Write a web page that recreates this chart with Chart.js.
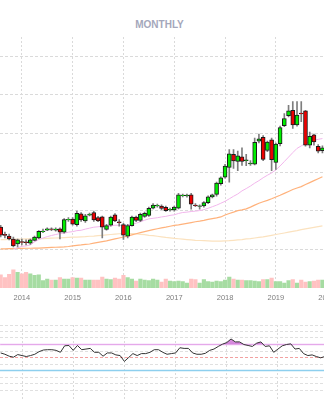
<!DOCTYPE html>
<html>
<head>
<meta charset="utf-8">
<title>Monthly</title>
<script src="https://cdn.jsdelivr.net/npm/chart.js@4.4.1/dist/chart.umd.min.js"></script>
<style>
  html, body { margin: 0; padding: 0; background: #fff; overflow: hidden; }
  body { width: 324px; height: 400px; position: relative; }
  .chart-title {
    position: absolute; top: 19px; left: 0; width: 319px;
    text-align: center; font: bold 10px Arial, "Liberation Sans", sans-serif;
    line-height: 12px; color: #a4a7bb;
  }
  #price-wrap { position: absolute; left: 0; top: 0; width: 340px; height: 307px; }
  #rsi-wrap { position: absolute; left: 0; top: 320px; width: 340px; height: 83px; }
</style>
</head>
<body>
<div class="chart-title">MONTHLY</div>
<div id="price-wrap"><canvas id="price-chart"></canvas></div>
<div id="rsi-wrap"><canvas id="rsi-chart"></canvas></div>
<script>
// month categories, Aug 2013 .. Dec 2019
const firstYear = 2013, firstMonth = 8, monthCount = 77;
const months = Array.from({ length: monthCount }, (_, i) => {
    const m = firstMonth - 1 + i;
    return `${firstYear + Math.floor(m / 12)}-${String(m % 12 + 1).padStart(2, '0')}`;
});
const yearTicks = ['2014', '2015', '2016', '2017', '2018', '2019', '2020'];

const opens = [31.6, 27.8, 26.9, 25.4, 22.8, 24.0, 23.9, 23.2, 24.7, 26.0,
    29.2, 30.0, 30.6, 30.0, 30.6, 28.9, 35.2, 35.7, 32.8, 38.4,
    34.8, 37.7, 39.1, 36.5, 36.8, 30.3, 32.5, 37.9, 34.3, 32.8,
    26.9, 32.3, 36.7, 35.0, 37.1, 37.6, 41.3, 42.5, 42.4, 41.8,
    40.4, 40.5, 41.3, 47.8, 47.7, 48.2, 43.0, 42.3, 42.5, 44.2,
    47.2, 48.5, 54.0, 57.4, 62.4, 69.2, 65.5, 68.0, 65.9, 64.3,
    64.1, 76.0, 78.0, 71.2, 76.8, 65.0, 74.8, 84.1, 89.2, 92.0,
    84.4, 90.6, 91.7, 74.0, 79.3, 73.4, 71.1];
const highs = [32.5, 28.9, 27.9, 26.4, 25.4, 25.4, 24.9, 25.4, 26.9, 29.7,
    30.5, 31.2, 31.2, 31.1, 31.2, 36.0, 36.5, 36.5, 39.8, 39.1,
    38.1, 38.8, 39.8, 37.1, 37.3, 33.0, 37.3, 38.6, 35.4, 33.5,
    33.0, 37.3, 37.3, 38.8, 39.3, 41.9, 43.7, 43.4, 43.1, 42.4,
    41.4, 42.4, 49.0, 48.7, 48.7, 49.0, 43.7, 43.1, 44.7, 47.7,
    48.7, 54.8, 57.6, 64.0, 71.7, 71.7, 70.9, 72.6, 69.2, 66.0,
    77.7, 79.7, 79.0, 76.1, 77.7, 75.1, 83.8, 90.4, 94.6, 96.6,
    96.6, 96.6, 92.0, 80.7, 79.7, 74.3, 73.6];
const lows = [26.4, 25.9, 24.9, 21.3, 21.3, 22.3, 22.3, 22.6, 24.4, 25.6,
    28.7, 29.7, 29.7, 29.4, 25.4, 28.4, 34.5, 32.5, 32.0, 34.5,
    34.0, 37.3, 34.5, 34.3, 26.0, 29.9, 32.0, 34.3, 32.0, 25.2,
    25.9, 32.0, 34.3, 34.3, 36.5, 37.1, 40.9, 41.9, 40.6, 39.6,
    39.8, 39.8, 40.9, 47.2, 47.0, 40.8, 42.1, 40.8, 41.9, 43.7,
    46.7, 47.5, 53.3, 56.9, 54.8, 61.9, 60.8, 63.5, 63.3, 63.5,
    63.7, 75.1, 66.0, 70.6, 60.8, 61.4, 73.6, 83.6, 88.6, 82.7,
    83.8, 86.1, 73.4, 72.6, 74.0, 70.0, 70.0];
const closes = [27.4, 27.2, 25.4, 21.8, 24.9, 23.6, 23.5, 24.9, 26.4, 29.3,
    29.5, 30.7, 30.3, 30.5, 28.9, 35.4, 35.6, 33.0, 38.7, 35.3,
    37.4, 38.3, 35.3, 34.8, 31.5, 32.3, 36.7, 34.8, 33.8, 27.3,
    32.3, 36.7, 35.0, 38.1, 38.7, 41.3, 43.0, 42.8, 41.2, 40.1,
    40.8, 41.9, 48.2, 48.1, 48.1, 43.4, 42.7, 42.6, 44.2, 47.2,
    48.2, 54.3, 57.1, 63.1, 69.5, 65.8, 68.4, 65.5, 66.4, 64.7,
    75.5, 77.2, 66.6, 75.6, 66.5, 74.6, 83.1, 87.8, 91.7, 84.4,
    89.5, 90.1, 74.0, 78.5, 75.6, 70.9, 72.6];
const volumes = [26, 21, 27, 36, 31, 28, 31, 28, 25, 26,
    15, 18, 16, 16, 21, 18, 18, 21, 20, 20,
    16, 16, 16, 16, 22, 18, 17, 20, 18, 25,
    21, 18, 14, 18, 16, 15, 18, 16, 12, 18,
    14, 13, 14, 13, 10, 18, 17, 10, 17, 13,
    12, 14, 13, 16, 22, 18, 16, 16, 15, 15,
    14, 13, 17, 17, 20, 13, 13, 10, 15, 17,
    10, 16, 12, 13, 14, 16, 16];

// moving averages
const maShort = [null, null, null, 20.1, 20.8, 21.6, 21.8, 22.3, 23.9, 25.1,
    25.9, 26.6, 27.2, 27.7, 28.2, 28.4, 28.9, 29.2, 29.7, 29.9,
    30.5, 31.0, 31.5, 31.7, 32.0, 32.0, 32.2, 32.5, 32.5, 32.2,
    32.5, 33.0, 33.6, 34.3, 35.1, 35.8, 36.1, 36.4, 36.8, 37.1,
    37.6, 37.9, 38.6, 39.1, 39.3, 39.6, 39.8, 40.1, 40.6, 41.3,
    42.1, 42.9, 43.9, 44.9, 46.2, 47.5, 48.7, 50.3, 51.5, 52.8,
    54.3, 55.6, 57.1, 58.4, 59.6, 61.2, 63.2, 65.5, 67.8, 70.1,
    72.3, 73.6, 74.9, 75.9, 76.5, 77.0, 77.4];
const maMid = [20.3, 20.3, 20.4, 20.4, 20.5, 20.5, 20.6, 20.6, 20.7, 20.7,
    20.8, 20.9, 21.0, 21.1, 21.2, 21.3, 21.5, 21.8, 22.1, 22.3,
    22.6, 22.8, 23.2, 23.6, 24.0, 24.4, 24.9, 25.4, 25.9, 26.4,
    26.9, 27.5, 28.1, 28.7, 29.2, 29.7, 30.2, 30.7, 31.1, 31.5,
    32.0, 32.4, 32.7, 33.1, 33.5, 33.9, 34.3, 34.6, 35.0, 35.5,
    35.9, 36.3, 36.8, 37.8, 38.6, 39.3, 40.1, 40.5, 41.0, 41.9,
    42.9, 43.9, 44.7, 45.4, 46.2, 47.1, 48.0, 49.0, 50.0, 51.0,
    51.8, 52.5, 53.6, 54.6, 55.6, 56.6, 57.6];
const maLong = [25.1, 25.1, 25.2, 25.2, 25.3, 25.3, 25.4, 25.4, 25.5, 25.5,
    25.6, 25.7, 25.8, 25.9, 26.0, 26.1, 26.2, 26.3, 26.4, 26.5,
    26.6, 26.8, 26.9, 27.1, 27.3, 27.5, 27.7, 27.9, 28.1, 28.2,
    28.2, 28.2, 28.0, 27.8, 27.6, 27.3, 27.1, 26.8, 26.5, 26.2,
    26.0, 25.7, 25.5, 25.3, 25.1, 24.9, 24.7, 24.6, 24.5, 24.4,
    24.3, 24.3, 24.3, 24.4, 24.5, 24.7, 24.9, 25.1, 25.4, 25.6,
    25.9, 26.2, 26.5, 26.9, 27.3, 27.7, 28.1, 28.5, 28.9, 29.3,
    29.7, 30.2, 30.6, 31.0, 31.4, 31.8, 32.2];

const rsi = [57, 55, 52, 50.5, 54.5, 53, 51.5, 53, 55, 59,
    61.5, 62, 62, 61, 58, 68, 68.5, 61, 68.5, 62,
    63, 64, 58, 58, 52, 57, 57, 54, 53, 44,
    50, 56, 53, 56, 56, 58, 62, 62, 58, 55,
    56, 57, 65, 64, 64, 57, 55, 55, 56.5, 61,
    63, 67, 70.5, 73, 78.5, 74, 74, 70, 68.5, 67,
    72, 74, 67, 68, 58, 63, 68, 70, 71, 63,
    64, 56, 53, 54, 51.5, 49.5, 51.5];
const rsiLevels = [70, 50, 30];

Chart.defaults.font.family = 'Arial, "Liberation Sans", Helvetica, sans-serif';

// visible month window (chart is wider than the page, right side clipped)
const viewStart = -0.157, viewEnd = 79.54;

const isUp = months.map((_, i) => closes[i] >= opens[i]);
const points = arr => arr.map((v, i) => ({ x: i, y: v }));
const yearPos = y => (Number(y) - firstYear) * 12 - (firstMonth - 1);

function timeAxis(showLabels) {
    return {
        type: 'linear',
        min: viewStart,
        max: viewEnd,
        offset: false,
        afterBuildTicks: axis => { axis.ticks = yearTicks.map(y => ({ value: yearPos(y) })); },
        ticks: {
            display: showLabels,
            autoSkip: false,
            maxRotation: 0,
            padding: 5,
            color: '#7d7d7d',
            font: { size: 7.5 },
            callback: (v, i) => yearTicks[i]
        },
        grid: { color: '#dadada', drawTicks: false, offset: false },
        border: { display: false, dash: [2, 2] }
    };
}

// --- PRICE + VOLUME ---
new Chart(document.getElementById('price-chart'), {
    type: 'bar',
    data: {
        datasets: [
            {
                label: 'body',
                data: months.map((_, i) => ({ x: i, y: [opens[i], closes[i]] })),
                backgroundColor: isUp.map(u => u ? '#00ee00' : '#ee0000'),
                borderColor: '#1c1c1c',
                borderWidth: 1,
                borderSkipped: false,
                barThickness: 4,
                grouped: false,
                order: 0
            },
            {
                label: 'wick',
                data: months.map((_, i) => ({ x: i, y: [lows[i], highs[i]] })),
                backgroundColor: '#7e7e7e',
                barThickness: 1,
                grouped: false,
                order: 1
            },
            {
                type: 'line', label: 'ma short', data: points(maShort),
                borderColor: '#f2b6ec', borderWidth: 1, pointRadius: 0, order: 2
            },
            {
                type: 'line', label: 'ma mid', data: points(maMid),
                borderColor: '#ffb27c', borderWidth: 1.2, pointRadius: 0, order: 3
            },
            {
                type: 'line', label: 'ma long', data: points(maLong),
                borderColor: '#fbe2bf', borderWidth: 1.2, pointRadius: 0, order: 4
            },
            {
                label: 'volume',
                data: points(volumes),
                yAxisID: 'vol',
                backgroundColor: isUp.map(u => u ? '#a6dca2' : '#ffc2c2'),
                barThickness: 3.5,
                grouped: false,
                order: 5
            }
        ]
    },
    options: {
        responsive: true,
        maintainAspectRatio: false,
        animation: false,
        layout: { padding: { top: 37 } },
        plugins: { legend: { display: false }, tooltip: { enabled: false } },
        scales: {
            x: timeAxis(true),
            y: {
                position: 'right',
                min: 0,
                max: 130,
                afterBuildTicks: axis => { axis.ticks = axis.ticks.filter(t => t.value > 0 && t.value < 130); },
                ticks: { stepSize: 20, display: false },
                grid: { color: '#dadada', drawTicks: false },
                border: { display: false, dash: [3, 2] }
            },
            vol: { display: false, min: 0, max: 500 }
        }
    }
});

// --- RSI ---
const rsiLevelLines = {
    id: 'rsiLevelLines',
    beforeDatasetsDraw(chart) {
        const { ctx, chartArea, scales } = chart;
        const style = {
            70: { color: '#ecb9f1', width: 1.6, dash: [] },
            50: { color: '#f2a0a0', width: 1, dash: [3, 2] },
            30: { color: '#8dcfee', width: 1.6, dash: [] }
        };
        rsiLevels.forEach(level => {
            const s = style[level];
            const y = scales.y.getPixelForValue(level);
            ctx.save();
            ctx.strokeStyle = s.color;
            ctx.lineWidth = s.width;
            ctx.setLineDash(s.dash);
            ctx.beginPath();
            ctx.moveTo(chartArea.left, y);
            ctx.lineTo(chartArea.right, y);
            ctx.stroke();
            ctx.restore();
        });
    }
};

new Chart(document.getElementById('rsi-chart'), {
    type: 'line',
    data: {
        datasets: [{
            label: 'rsi',
            data: points(rsi),
            borderColor: '#333',
            borderWidth: 1,
            pointRadius: 0,
            fill: { target: { value: 70 }, above: 'rgba(200, 100, 210, 0.75)', below: 'transparent' }
        }]
    },
    options: {
        responsive: true,
        maintainAspectRatio: false,
        animation: false,
        layout: { padding: { top: 5 } },
        plugins: { legend: { display: false }, tooltip: { enabled: false } },
        scales: {
            x: timeAxis(false),
            y: {
                position: 'right',
                min: -20,
                max: 100,
                afterBuildTicks: axis => { axis.ticks = axis.ticks.filter(t => t.value >= 0); },
                ticks: { stepSize: 10, display: false },
                grid: { color: '#e0e0e0', drawTicks: false },
                border: { display: false, dash: [3, 2] }
            }
        }
    },
    plugins: [rsiLevelLines]
});
</script>
</body>
</html>
